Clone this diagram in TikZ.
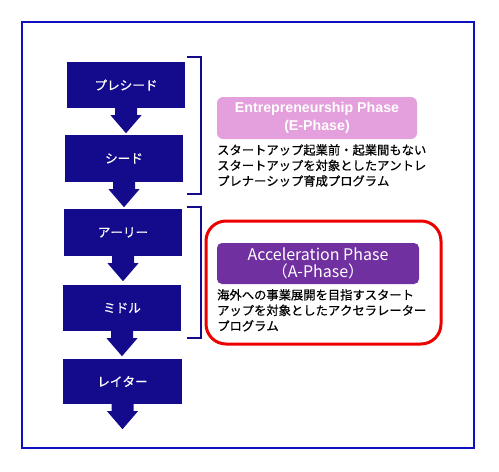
\documentclass[tikz,border=0pt]{standalone}
\usepackage{fontspec}
\setmainfont{Noto Sans CJK JP}
\newfontfamily\jpdesc[FakeBold=0.6,Kerning=Off]{Noto Sans CJK JP}
\newfontfamily\arialfont{Liberation Sans}
\definecolor{navy}{HTML}{140A8C}
\definecolor{framebl}{HTML}{1010C0}
\definecolor{pinkph}{HTML}{E4A0DC}
\definecolor{purpph}{HTML}{7030A0}
\definecolor{redln}{HTML}{EE0000}
\newcommand{\blockarrow}[1]{%
  \fill[navy] ([xshift=-11pt]#1.south) -- ++(0,7) -- ++(-4.5,0) -- ++(15.5,18) -- ++(15.5,-18) -- ++(-4.5,0) -- ++(0,-7) -- cycle;}
\begin{document}
\begin{tikzpicture}[x=1pt,y=-1pt,
  stage/.style={fill=navy, text=white, minimum width=118pt, minimum height=46pt, inner sep=0pt, font=\jpdesc\fontsize{12.6}{15}\selectfont},
  brk/.style={draw=navy, line width=1.6pt},
  desc/.style={align=left, inner sep=0pt, font=\jpdesc\fontsize{12.3}{15.5}\selectfont},
  ebox/.style={fill=pinkph, rounded corners=6pt, minimum width=200pt, minimum height=42pt, text=white, align=center, inner sep=0pt, font=\arialfont\bfseries\fontsize{14.2}{17.5}\selectfont},
  abox/.style={fill=purpph, rounded corners=5pt, minimum width=202pt, minimum height=41pt, text=white, align=center, inner sep=0pt, font=\fontsize{16}{16.5}\selectfont},
  redbox/.style={draw=redln, line width=3pt, rounded corners=20pt, minimum width=235pt, minimum height=123pt, inner sep=0pt}]
\useasboundingbox (0,0) rectangle (499,472);
\draw[draw=framebl, line width=2pt] (22,22) rectangle (474,448);
% stages
\node[stage] (b1) at (126,85) {プレシード};
\node[stage, minimum height=47pt] (b2) at (124,158.5) {シード};
\node[stage, minimum height=47pt] (b3) at (123,232.5) {アーリー};
\node[stage] (b4) at (122,308) {ミドル};
\node[stage, minimum height=45pt, minimum width=119pt] (b5) at (122.5,381.5) {レイター};
\blockarrow{b1}
\blockarrow{b2}
\blockarrow{b3}
\blockarrow{b4}
\blockarrow{b5}
% brackets
\draw[brk] (187,57) -- (201,57) -- (201,194) -- (187,194);
\draw[brk] (187,207) -- (201,207) -- (201,338) -- (187,338);
% E-phase
\node[ebox] (e) at (317,118) {Entrepreneurship Phase\\(E-Phase)};
\node[desc, anchor=north west] (et) at (217,144) {スタートアップ起業前・起業間もない\\スタートアップを対象としたアントレ\\プレナーシップ育成プログラム};
% A-phase
\node[redbox] (r) at (323.5,282.5) {};
\node[abox] (a) at (318,263.5) {Acceleration Phase\\（A-Phase）};
\node[desc, anchor=north west] (at) at (217,289) {海外への事業展開を目指すスタート\\アップを対象としたアクセラレーター\\プログラム};
\end{tikzpicture}
\end{document}
